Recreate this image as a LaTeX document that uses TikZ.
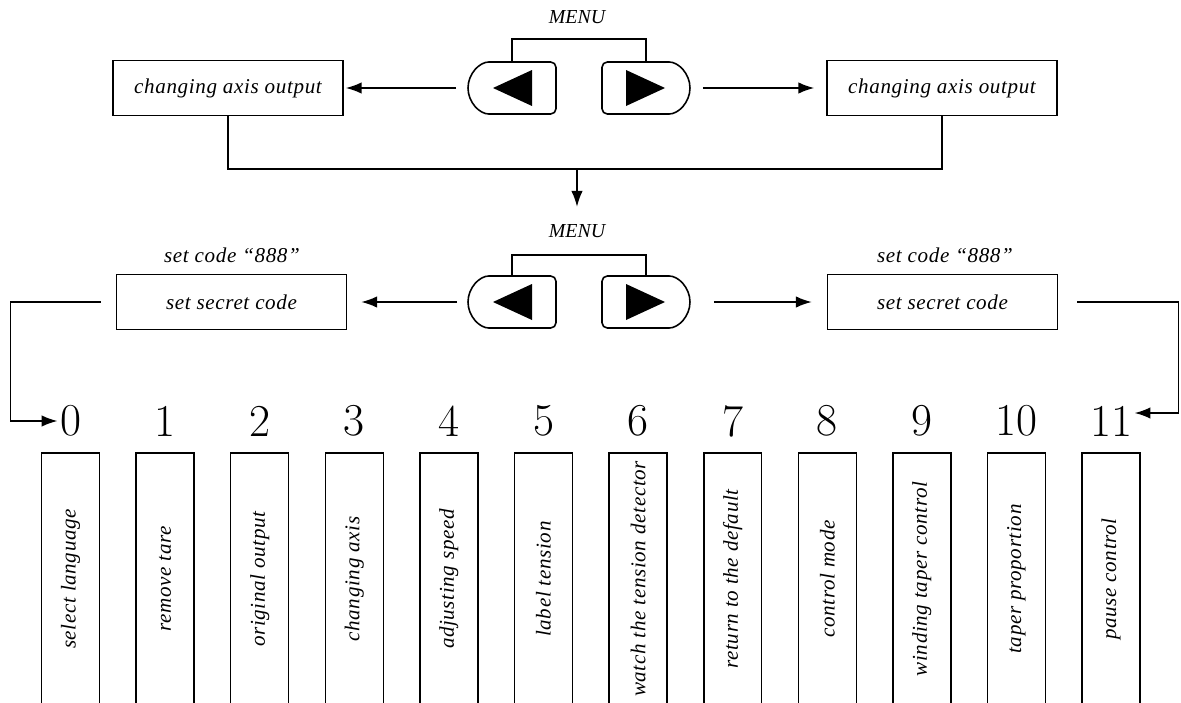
\documentclass[tikz,border=0pt]{standalone}
\usepackage{fontspec}
\newfontfamily\labelfont[LetterSpace=3]{Liberation Serif}
\usetikzlibrary{calc,shapes.misc,arrows.meta}
\tikzset{>={Latex[length=9pt,width=6.5pt]}}
\tikzset{
  txt/.style={font=\labelfont\itshape\fontsize{12}{14}\selectfont},
  menubox/.style={draw,txt,minimum width=4.6cm,minimum height=1.1cm,inner sep=0},
  keyleft/.style={draw,rounded rectangle,rounded rectangle right arc=none,rounded corners=3pt,minimum width=1.76cm,minimum height=1.04cm,inner sep=0},
  keyright/.style={draw,rounded rectangle,rounded rectangle left arc=none,rounded corners=3pt,minimum width=1.76cm,minimum height=1.04cm,inner sep=0},
  menulabel/.style={font=\labelfont\addfontfeature{LetterSpace=0}\itshape\fontsize{11.3}{12}\selectfont},
  digit/.style={font=\fontsize{26}{26}\selectfont,inner sep=1pt},
  item/.style={draw,txt,rotate=90,minimum width=5.04cm,minimum height=1.16cm,inner sep=0}
}

\begin{document}
\begin{tikzpicture}[x=0.02cm,y=-0.02cm,line width=0.9pt]
  \useasboundingbox (0,0) rectangle (1181,703);
  \clip (0,0) rectangle (1181,703);
  % first menu
  \node[menulabel] (menu1) at (577,17) {MENU};
  \node[keyleft] (lk1) at (512,88) {};
  \node[keyright] (rk1) at (646,88) {};
  \node[menubox] (ax1) at (228,88) {changing axis output};
  \node[menubox] (ax2) at (942,88) {changing axis output};
  \draw (lk1.north) -- ++(0,-22) -| (rk1.north);
  \fill ($(lk1)+(-19,0)$) -- ++(39,-18) -- ++(0,36) -- cycle;
  \fill ($(rk1)+(19,0)$) -- ++(-39,-18) -- ++(0,36) -- cycle;
  \draw[->,shorten <=0.22cm,shorten >=0.04cm] (lk1.west) -- (ax1.east);
  \draw[->,shorten <=0.24cm,shorten >=0.24cm] (rk1.east) -- (ax2.west);
  % join
  \coordinate (join) at (577,170);
  \draw (ax1.south) -- ++(0,53) -| (ax2.south);
  % second menu
  \node[menulabel] (menu2) at (577,231) {MENU};
  \draw[->,shorten >=0.22cm] (join) -- (menu2.north);
  \node[keyleft] (lk2) at (512,302) {};
  \node[keyright] (rk2) at (646,302) {};
  \node[menubox] (sc1) at (231.5,302) {set secret code};
  \node[menubox] (sc2) at (942.5,302) {set secret code};
  \node[txt] (code1) at (232,255) {set code “888”};
  \node[txt] (code2) at (945,255) {set code “888”};
  \draw (lk2.north) -- ++(0,-20) -| (rk2.north);
  \fill ($(lk2)+(-19,0)$) -- ++(39,-18) -- ++(0,36) -- cycle;
  \fill ($(rk2)+(19,0)$) -- ++(-39,-18) -- ++(0,36) -- cycle;
  \draw[->,shorten <=0.2cm,shorten >=0.28cm] (lk2.west) -- (sc1.east);
  \draw[->,shorten <=0.46cm,shorten >=0.3cm] (rk2.east) -- (sc2.west);
  % items
  \foreach \n/\lbl in {0/select language,1/remove tare,2/original output,3/changing axis,
    4/adjusting speed,5/label tension,6/watch the tension detector,7/return to the default,
    8/control mode,9/winding taper control,10/taper proportion,11/pause control} {
    \node[digit] (d\n) at (70.5+94.6*\n,421) {\n};
    \node[item] (it\n) at (70.5+94.6*\n,579) {\lbl};
  };
  \draw[->] ($(sc1.west)+(-15,0)$) -| ($(d0.west)+(-47,0)$) -- (d0.west);
  \draw[->] ($(sc2.east)+(19,0)$) -| ($(d11.east)+(44,-8)$) -- ($(d11.east)+(0,-8)$);
\end{tikzpicture}
\end{document}
